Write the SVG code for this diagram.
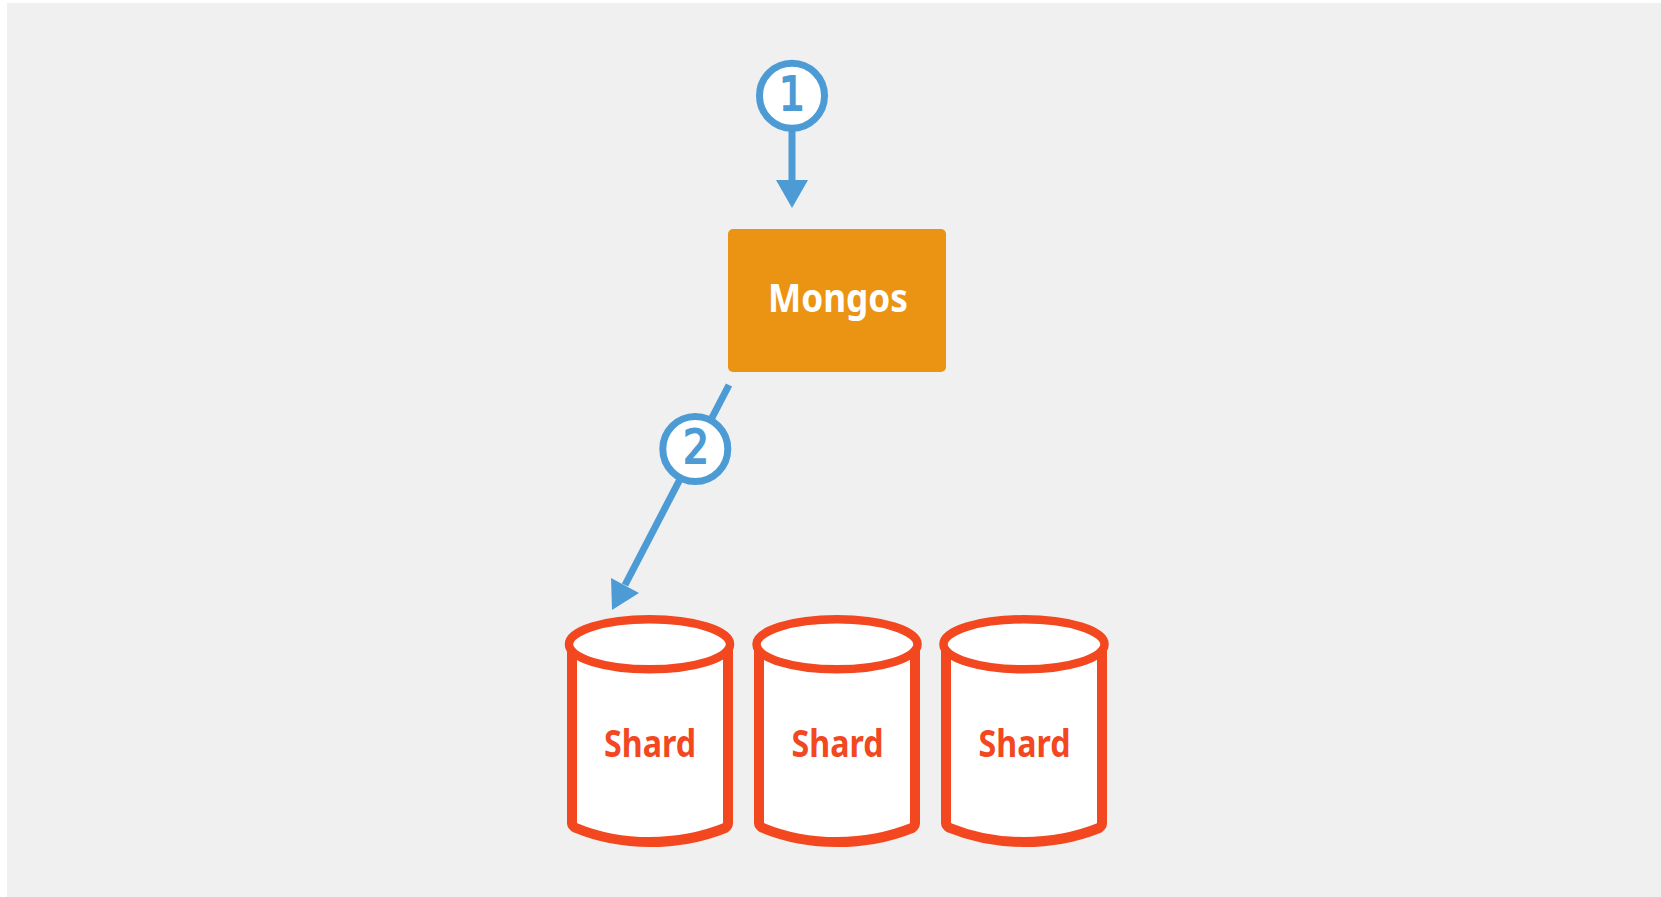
<svg xmlns="http://www.w3.org/2000/svg" width="1661" height="897" viewBox="0 0 1661 897">
<style>
.conn{stroke:#4d9bd5;stroke-width:7;fill:none}
.tip{fill:#4d9bd5}
.badge{fill:#fff;stroke:#4d9bd5;stroke-width:7}
.num{font-family:"DejaVu Sans",sans-serif;font-weight:400;font-size:47px;fill:#4d9bd5;stroke:#4d9bd5;stroke-width:2;text-anchor:middle}
.lbl{font-family:"Noto Sans",sans-serif;font-weight:700;text-anchor:middle}
.cyl{fill:#fff;stroke:#f2471f;stroke-width:10;stroke-linejoin:round}
.top{fill:#fff;stroke:#f2471f;stroke-width:8.5}
.shard{font-size:37px;fill:#f2471f}
</style>
<rect x="7" y="3" width="1654" height="894" fill="#f0f0f0"/>
<g id="connectors">
<path class="conn" d="M792 125V182"/>
<polygon class="tip" points="792,208 776,180 808,180"/>
<path class="conn" d="M729 385L625 585"/>
<polygon class="tip" points="612,610 611,578 639,593"/>
</g>
<g id="step-1"><circle class="badge" cx="792" cy="95.7" r="32.5"/><text class="num" x="792" y="110" textLength="26" lengthAdjust="spacingAndGlyphs">1</text></g>
<g id="mongos"><rect x="728" y="229" width="218" height="143" rx="5" fill="#eb9413"/><text class="lbl" x="838" y="312" font-size="40" fill="#fff" textLength="140" lengthAdjust="spacingAndGlyphs">Mongos</text></g>
<g id="step-2"><circle class="badge" cx="695.3" cy="449" r="32.5"/><text class="num" x="696" y="463" textLength="26" lengthAdjust="spacingAndGlyphs">2</text></g>
<g id="shard-1"><path class="cyl" d="M572 644V823Q572 826 576 828Q610 842 649.5 842Q690 842 725 828Q728 826 728 823V644Z"/><ellipse class="top" cx="649.5" cy="644.3" rx="80.5" ry="25"/><text class="lbl shard" x="650" y="757" textLength="92" lengthAdjust="spacingAndGlyphs">Shard</text></g>
<g id="shard-2"><path class="cyl" d="M759 644V823Q759 826 763 828Q797 842 837 842Q877 842 912 828Q915 826 915 823V644Z"/><ellipse class="top" cx="837" cy="644.3" rx="80.5" ry="25"/><text class="lbl shard" x="837.5" y="757" textLength="92" lengthAdjust="spacingAndGlyphs">Shard</text></g>
<g id="shard-3"><path class="cyl" d="M946 644V823Q946 826 950 828Q984 842 1024 842Q1064 842 1099 828Q1102 826 1102 823V644Z"/><ellipse class="top" cx="1024" cy="644.3" rx="80.5" ry="25"/><text class="lbl shard" x="1024.5" y="757" textLength="92" lengthAdjust="spacingAndGlyphs">Shard</text></g>
</svg>
